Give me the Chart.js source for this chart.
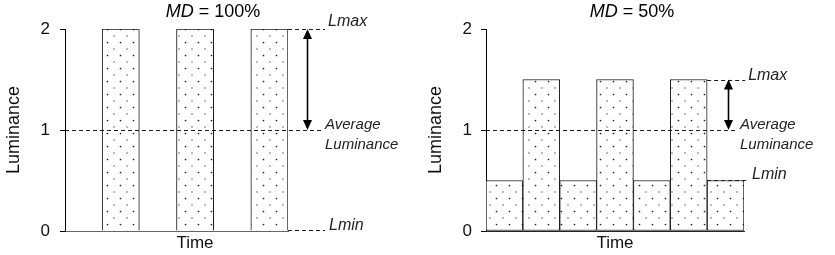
<!DOCTYPE html>
<html><head><meta charset="utf-8">
<script src="https://cdn.jsdelivr.net/npm/chart.js@4/dist/chart.umd.min.js"></script>
<style>
html,body{margin:0;padding:0;background:#fff;}
#wrap{position:relative;width:835px;height:255px;overflow:hidden;}
canvas{position:absolute;top:0;}
</style></head><body>
<div id="wrap">
<canvas id="c1" width="415" height="255" style="left:0"></canvas>
<canvas id="c2" width="420" height="255" style="left:415px"></canvas>
</div>
<script>
// ---- data ----
const timeSlotsLeft = ['1','2','3','4','5','6'];
const luminanceLeft = [0, 2, 0, 2, 0, 2];
const timeSlotsRight = ['1','2','3','4','5','6','7'];
const luminanceRight = [0.5, 1.5, 0.5, 1.5, 0.5, 1.5, 0.5];
const yTickValues = [0, 1, 2];
const modulationDepths = ['100%', '50%'];
const averageLuminance = [1, 1];
const axisLabels = { x: 'Time', y: 'Luminance' };
const annotationLabels = { max: 'Lmax', avg: ['Average', 'Luminance'], min: 'Lmin' };

const FONT = "'Liberation Sans', Arial, sans-serif";

function dotPattern() {
  const c = document.createElement('canvas');
  c.width = 13; c.height = 13;
  const g = c.getContext('2d');
  g.fillStyle = '#fff'; g.fillRect(0, 0, 13, 13);
  g.fillStyle = '#1a1a1a';
  g.beginPath(); g.arc(3.5, 3.5, 0.85, 0, Math.PI * 2); g.fill();
  g.fillStyle = '#555';
  g.beginPath(); g.arc(10, 10, 0.75, 0, Math.PI * 2); g.fill();
  return g.createPattern(c, 'repeat');
}

function annotationPlugin(o) {
  return {
    id: 'annot',
    afterDraw(chart) {
      const { ctx, chartArea: a, scales: { x, y } } = chart;
      const data = chart.data.datasets[0].data;
      const vMax = Math.max(...data), vMin = Math.min(...data);
      const yMax = y.getPixelForValue(vMax), yAvg = y.getPixelForValue(o.avg), yMin = y.getPixelForValue(vMin);
      const meta = chart.getDatasetMeta(0);
      const lastMaxIdx = data.lastIndexOf(vMax);
      const bar = meta.data[lastMaxIdx];
      const maxStart = bar.x + bar.width / 2;
      ctx.save();
      ctx.strokeStyle = '#1a1a1a'; ctx.lineWidth = 1; ctx.setLineDash([4, 3]);
      const ln = (x1, y1, x2, y2) => { ctx.beginPath(); ctx.moveTo(x1, y1); ctx.lineTo(x2, y2); ctx.stroke(); };
      ln(a.left, Math.round(yAvg) + 0.5, a.right + o.avgEnd, Math.round(yAvg) + 0.5);
      ln(maxStart, Math.round(yMax) + 0.5, maxStart + o.maxLen, Math.round(yMax) + 0.5);
      ln(a.right + o.minStart, Math.round(yMin) - 0.5, a.right + o.minEnd, Math.round(yMin) - 0.5);
      ctx.setLineDash([]);
      // double arrow
      const ax = Math.round(maxStart + o.arrowOff) + 0.5;
      ctx.lineWidth = 1.6; ctx.strokeStyle = '#000'; ctx.fillStyle = '#000';
      const head = 10, hw = 4.5;
      ln(ax, yMax + head - 1, ax, yAvg - head + 1);
      ctx.beginPath(); ctx.moveTo(ax, yMax); ctx.lineTo(ax - hw, yMax + head); ctx.lineTo(ax + hw, yMax + head); ctx.closePath(); ctx.fill();
      ctx.beginPath(); ctx.moveTo(ax, yAvg); ctx.lineTo(ax - hw, yAvg - head); ctx.lineTo(ax + hw, yAvg - head); ctx.closePath(); ctx.fill();
      // labels
      ctx.fillStyle = '#222'; ctx.textBaseline = 'middle'; ctx.textAlign = 'left';
      ctx.font = 'italic 16px ' + FONT;
      ctx.fillText(annotationLabels.max, maxStart + o.maxLen + 3, yMax - o.maxDy);
      ctx.fillText(annotationLabels.min, a.right + o.minText, yMin - o.minDy);
      ctx.font = 'italic 15px ' + FONT;
      ctx.fillText(annotationLabels.avg[0], a.right + o.avgText, yAvg - 5);
      ctx.fillText(annotationLabels.avg[1], a.right + o.avgText, yAvg + 15);
      // x-axis title
      ctx.fillStyle = '#111'; ctx.textAlign = 'center';
      ctx.font = '17px ' + FONT;
      ctx.fillText(axisLabels.x, o.timeX, 243);
      // title
      ctx.textAlign = 'left';
      ctx.fillStyle = '#000';
      ctx.font = 'italic 18px ' + FONT;
      const w1 = ctx.measureText('MD').width;
      ctx.font = '18px ' + FONT;
      const rest = ' = ' + o.md;
      const w2 = ctx.measureText(rest).width;
      const sx = o.titleX - (w1 + w2) / 2;
      ctx.font = 'italic 18px ' + FONT;
      ctx.fillText('MD', sx, 12);
      ctx.font = '18px ' + FONT;
      ctx.fillText(rest, sx + w1, 12);
      ctx.restore();
    }
  };
}

function makeChart(id, labels, values, opt) {
  return new Chart(document.getElementById(id), {
    type: 'bar',
    data: {
      labels: labels,
      datasets: [{
        data: values,
        backgroundColor: dotPattern(),
        borderColor: '#1a1a1a',
        borderWidth: 1,
        borderSkipped: opt.skip,
        categoryPercentage: 1,
        barPercentage: 1
      }]
    },
    options: {
      responsive: false,
      animation: false,
      devicePixelRatio: 1,
      layout: { padding: { top: 29, right: opt.padRight, left: 0, bottom: 0 } },
      plugins: { legend: { display: false }, tooltip: { enabled: false }, title: { display: false } },
      scales: {
        x: {
          grid: { display: false },
          ticks: { display: false },
          border: { display: true, color: opt.xAxisColor, width: 1 },
          title: { display: false },
          afterFit: s => { s.height = 24; }
        },
        y: {
          min: 0, max: 2,
          afterBuildTicks: s => { s.ticks = yTickValues.map(v => ({ value: v })); },
          grid: { drawOnChartArea: false, drawTicks: true, tickLength: 5, color: '#000' },
          border: { display: true, color: '#000', width: 1 },
          ticks: { color: '#111', padding: opt.tickPad, font: { family: FONT, size: 17 } },
          title: { display: true, text: axisLabels.y, color: '#111', font: { family: FONT, size: 18 }, padding: { top: opt.yTitlePad, bottom: 0 } },
          afterFit: s => { s.width = opt.yWidth; }
        }
      }
    },
    plugins: [annotationPlugin(opt.annot)]
  });
}

makeChart('c1', timeSlotsLeft, luminanceLeft, {
  skip: 'start', padRight: 127, yWidth: 65, tickPad: 10, yTitlePad: 3, xAxisColor: '#666',
  annot: { avg: averageLuminance[0], md: modulationDepths[0], titleX: 213, timeX: 195,
    avgEnd: 35, avgText: 37, maxLen: 37, arrowOff: 19, maxDy: 7,
    minStart: 0, minEnd: 37, minText: 41, minDy: 5 }
});
makeChart('c2', timeSlotsRight, luminanceRight, {
  skip: false, padRight: 91, yWidth: 71, tickPad: 9, yTitlePad: 10, xAxisColor: '#222',
  annot: { avg: averageLuminance[1], md: modulationDepths[1], titleX: 217, timeX: 200,
    avgEnd: -6, avgText: -4, maxLen: 38, arrowOff: 21, maxDy: 4,
    minStart: -37, minEnd: 4, minText: 8, minDy: 6 }
});
</script>
</body></html>
